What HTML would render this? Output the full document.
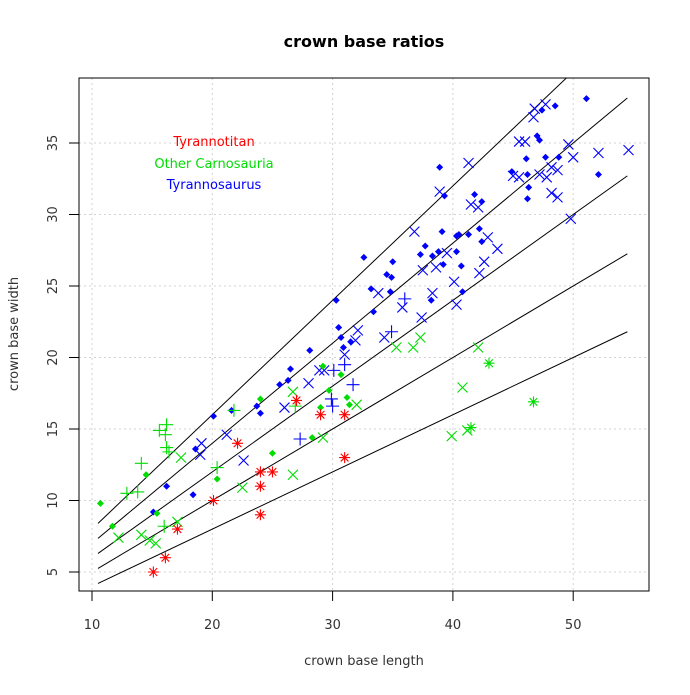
<!DOCTYPE html>
<html><head><meta charset="utf-8"><style>
body{margin:0;background:#fff}
svg text{font-family:"DejaVu Sans","Liberation Sans",sans-serif}
</style></head><body>
<svg id="chart" width="690" height="690" xmlns="http://www.w3.org/2000/svg">
<defs><clipPath id="clip"><rect x="79" y="78" width="570" height="513"/></clipPath></defs>
<rect width="690" height="690" fill="#fff"/>
<text x="364" y="47" text-anchor="middle" font-size="16" font-weight="bold">crown base ratios</text>
<text x="364" y="665" text-anchor="middle" font-size="13" fill="#333">crown base length</text>
<text transform="translate(18,334) rotate(-90)" text-anchor="middle" font-size="13" fill="#333">crown base width</text>
<g id="grid"></g>
<g id="axes"></g>
<g id="lines" clip-path="url(#clip)"></g>
<g id="pts"></g>
<rect x="79" y="78" width="570" height="513" fill="none" stroke="#000" stroke-width="1"/>
<g font-size="13" text-anchor="middle">
<text x="214" y="146" fill="#ff0000">Tyrannotitan</text>
<text x="214" y="168" fill="#00dd00">Other Carnosauria</text>
<text x="214" y="189" fill="#0000ff">Tyrannosaurus</text>
</g>
</svg>
<script>
const xTicks=[10,20,30,40,50];
const yTicks=[5,10,15,20,25,30,35];
const ratios=[0.4,0.5,0.6,0.7,0.8];
const lineRange=[10.5,54.5];
const blueDiamond=[[16.2,11.0],[15.1,9.2],[18.4,10.4],[18.6,13.6],[20.1,15.9],[21.6,16.3],[23.7,16.6],[24.0,16.1],[25.6,18.1],[26.3,18.4],[26.5,19.2],[28.1,20.5],[30.3,24.0],[30.7,21.4],[30.5,22.1],[30.9,20.7],[31.5,21.1],[32.6,27.0],[33.2,24.8],[33.4,23.2],[34.5,25.8],[34.9,25.6],[34.8,24.6],[35.0,26.7],[37.3,27.2],[37.7,27.8],[38.3,27.1],[38.8,27.4],[39.2,26.5],[39.1,28.8],[38.2,24.0],[38.9,33.3],[39.3,31.3],[40.3,27.4],[40.3,28.5],[40.5,28.6],[40.7,26.4],[40.8,24.6],[41.3,28.6],[41.8,31.4],[42.4,30.9],[42.2,29.0],[42.4,28.1],[44.9,33.0],[46.2,32.8],[46.1,33.9],[46.3,31.9],[46.2,31.1],[47.0,35.5],[47.2,35.2],[47.7,34.0],[47.4,37.3],[48.5,37.6],[48.8,34.0],[51.1,38.1],[52.1,32.8]];
const blueCross=[[19.1,14.0],[19.0,13.2],[21.2,14.6],[22.6,12.8],[26.0,16.5],[28.0,18.2],[28.9,19.1],[29.3,19.1],[31.0,20.2],[31.9,21.2],[32.1,21.9],[34.3,21.4],[33.8,24.5],[35.8,23.5],[37.4,22.8],[38.3,24.5],[37.5,26.1],[38.6,26.3],[39.5,27.3],[40.1,25.3],[40.3,23.7],[36.8,28.8],[42.2,25.9],[42.6,26.7],[42.9,28.4],[43.7,27.6],[38.9,31.6],[41.5,30.7],[42.1,30.5],[41.3,33.6],[45.0,32.7],[45.5,32.6],[45.5,35.1],[46.0,35.1],[46.7,36.8],[46.8,37.4],[47.7,37.7],[47.2,32.8],[47.8,32.6],[48.2,33.3],[48.7,33.1],[48.2,31.5],[48.7,31.2],[49.6,34.9],[50.0,34.0],[49.8,29.7],[52.1,34.3],[54.6,34.5]];
const bluePlus=[[27.3,14.3],[31.7,18.1],[29.9,17.1],[30.0,16.6],[30.1,19.1],[31.0,19.5],[34.9,21.8],[36.0,24.1]];
const greenDiamond=[[10.7,9.8],[11.7,8.2],[14.5,11.8],[15.4,9.1],[20.4,11.5],[24.0,17.1],[25.0,13.3],[29.2,19.4],[30.7,18.8],[29.7,17.7],[29.0,16.5],[31.2,17.2],[31.4,16.7],[28.3,14.4]];
const greenPlus=[[16.2,15.3],[15.6,14.9],[16.1,14.6],[16.2,13.7],[16.4,13.4],[14.1,12.6],[12.9,10.5],[13.8,10.6],[20.4,12.3],[16.0,8.2],[21.8,16.3],[26.9,16.6]];
const greenCross=[[12.2,7.4],[14.1,7.6],[14.8,7.2],[15.3,7.0],[17.1,8.5],[17.4,13.0],[22.5,10.9],[26.7,11.8],[26.7,17.6],[29.2,14.4],[32.0,16.7],[35.3,20.7],[36.7,20.7],[37.3,21.4],[42.1,20.7],[40.8,17.9],[39.9,14.5],[41.2,14.9]];
const greenStar=[[43.0,19.6],[46.7,16.9],[41.5,15.1]];
const redStar=[[22.1,14.0],[27.0,17.0],[29.0,16.0],[31.0,16.0],[31.0,13.0],[24.0,12.0],[25.0,12.0],[24.0,11.0],[20.1,10.0],[24.0,9.0],[17.1,8.0],[16.1,6.0],[15.1,5.0]];

const NS='http://www.w3.org/2000/svg';
function X(v){return 92+(v-10)*12.03;}
function Y(v){return 572-(v-5)*14.3;}
function mk(tag,attrs,parent){const e=document.createElementNS(NS,tag);for(const k in attrs)e.setAttribute(k,attrs[k]);parent.appendChild(e);return e;}
const grid=document.getElementById('grid'),axes=document.getElementById('axes'),lines=document.getElementById('lines'),pts=document.getElementById('pts');
xTicks.forEach(t=>{
  const g=mk('line',{x1:X(t),x2:X(t),y1:78,y2:591,stroke:'#d3d3d3','stroke-dasharray':'2,3'},grid);
  
  
  const tk=mk('line',{x1:X(t),x2:X(t),y1:591,y2:601,stroke:'#000'},axes);
  
  
  const tx=mk('text',{x:X(t),y:629,'text-anchor':'middle','font-size':'13',fill:'#333'},axes);
  tx.textContent=t;
  
  
});
yTicks.forEach(t=>{
  const g=mk('line',{x1:79,x2:649,y1:Y(t),y2:Y(t),stroke:'#d3d3d3','stroke-dasharray':'2,3'},grid);
  
  
  const tk=mk('line',{x1:69,x2:79,y1:Y(t),y2:Y(t),stroke:'#000'},axes);
  
  
  const tx=mk('text',{transform:`translate(57,${Y(t)}) rotate(-90)`,'text-anchor':'middle','font-size':'13',fill:'#333'},axes);
  tx.textContent=t;
  
  
});
ratios.forEach(k=>{
  const l=mk('line',{x1:X(lineRange[0]),y1:Y(lineRange[0]*k),x2:X(lineRange[1]),y2:Y(lineRange[1]*k),stroke:'#000','stroke-width':1},lines);
  
  
});
function draw(data,type,color,name){
  data.forEach(d=>{
    const x=X(d[0]),y=Y(d[1]);let e;
    if(type==='d'){const r=3.5;e=mk('path',{d:`M${x} ${y-r}L${x+r} ${y}L${x} ${y+r}L${x-r} ${y}Z`,fill:color},pts);}
    else if(type==='x'){const r=5;e=mk('path',{d:`M${x-r} ${y-r}L${x+r} ${y+r}M${x-r} ${y+r}L${x+r} ${y-r}`,stroke:color,'stroke-width':1.1,fill:'none'},pts);}
    else if(type==='+'){const r=6.5;e=mk('path',{d:`M${x-r} ${y}L${x+r} ${y}M${x} ${y-r}L${x} ${y+r}`,stroke:color,'stroke-width':1.1,fill:'none'},pts);}
    else {const r=5.5,a=r*0.7;e=mk('path',{d:`M${x-r} ${y}L${x+r} ${y}M${x} ${y-r}L${x} ${y+r}M${x-a} ${y-a}L${x+a} ${y+a}M${x-a} ${y+a}L${x+a} ${y-a}`,stroke:color,'stroke-width':1.1,fill:'none'},pts);}
    
    
  });
}
draw(blueDiamond,'d','#0000ff','tyrannosaurus-point');
draw(blueCross,'x','#0000ff','tyrannosaurus-point');
draw(bluePlus,'+','#0000ff','tyrannosaurus-point');
draw(greenDiamond,'d','#00dd00','carnosauria-point');
draw(greenPlus,'+','#00dd00','carnosauria-point');
draw(greenCross,'x','#00dd00','carnosauria-point');
draw(greenStar,'*','#00dd00','carnosauria-point');
draw(redStar,'*','#ff0000','tyrannotitan-point');
</script>
</body></html>
